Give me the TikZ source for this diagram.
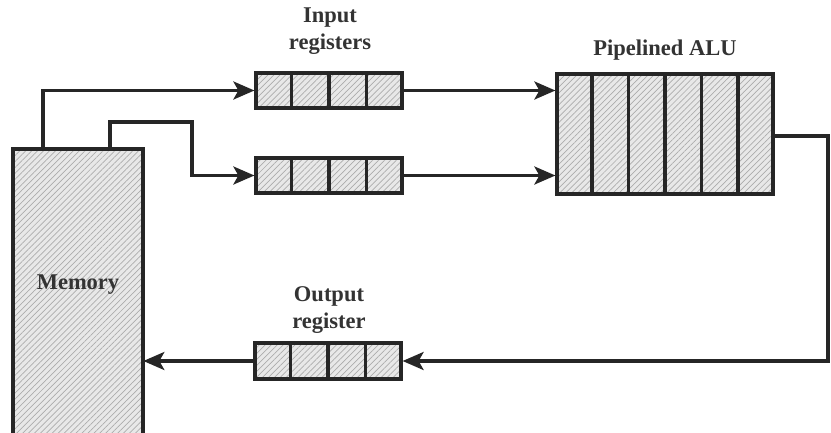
\documentclass[tikz,border=0pt]{standalone}
\usepackage{fontspec}
\setmainfont{Liberation Serif}
\usetikzlibrary{patterns.meta,arrows.meta,calc}
\begin{document}
\begin{tikzpicture}[x=1pt,y=-1pt,
  hatch/.style={draw=black!85, line width=3.2pt,
    preaction={fill=gray!18},
    pattern={Lines[angle=45,distance=4.2pt,line width=0.7pt]},
    pattern color=gray!65},
  wire/.style={draw=black!85, line width=3.2pt},
  arr/.style={wire,-{Stealth[length=21pt,width=18pt,inset=5pt]}},
  lbl/.style={font=\fontsize{22.5}{27}\selectfont\bfseries, text=black!80, align=center, inner sep=0pt}]
\useasboundingbox (0,0) rectangle (831,432);
\fill[white] (0,0) rectangle (831,432);
% memory
\node[hatch, rectangle, minimum width=130pt, minimum height=295pt, inner sep=0pt] (mem) at (78,296.5) {};
\node[lbl] (memlabel) at (78,285) {Memory};
% registers
\node[hatch, rectangle, minimum width=146pt, minimum height=35pt, inner sep=0pt] (reg1) at (329,90.5) {};
\node[hatch, rectangle, minimum width=146pt, minimum height=35pt, inner sep=0pt] (reg2) at (329,175.5) {};
\node[hatch, rectangle, minimum width=146pt, minimum height=36pt, inner sep=0pt] (outreg) at (328,361) {};
\node[hatch, rectangle, minimum width=216pt, minimum height=120pt, inner sep=0pt] (alu) at (665,134) {};
\foreach \n in {reg1,reg2,outreg}{
  \foreach \i in {1,2,3}{
    \draw[wire] ($(\n.north west)!\i/4!(\n.north east)$) -- ($(\n.south west)!\i/4!(\n.south east)$);
  }
}
\foreach \i in {1,...,5}{
  \draw[wire] ($(alu.north west)!\i/6!(alu.north east)$) -- ($(alu.south west)!\i/6!(alu.south east)$);
}
% labels
\node[lbl] (inlabel) at (330,31) {Input\\registers};
\node[lbl] (alulabel) at (665,50) {Pipelined ALU};
\node[lbl] (outlabel) at (329,310) {Output\\register};
% connectors
\coordinate (m1) at (43,149);
\coordinate (m2) at (110,149);
\coordinate (c2) at (192,122);
\coordinate (aout) at (773,136);
\coordinate (rc) at (828,136);
\draw[arr] (m1) |- (reg1.west);
\draw[arr] (m2) |- (c2) |- (reg2.west);
\draw[arr] (reg1.east) -- (reg1.east -| alu.west);
\draw[arr] (reg2.east) -- (reg2.east -| alu.west);
\draw[arr] (aout) -- (rc) |- (outreg.east);
\draw[arr] (outreg.west) -- (outreg.west -| mem.east);
\end{tikzpicture}
\end{document}
